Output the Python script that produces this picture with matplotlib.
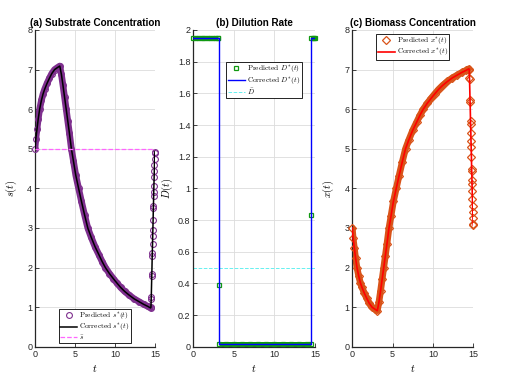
import numpy as np
import matplotlib.pyplot as plt
from matplotlib.ticker import FuncFormatter

plt.rcParams['font.family'] = 'Liberation Sans'
plt.rcParams['mathtext.fontset'] = 'cm'

# time points (rise / decline / fast jump at the end)
t_pts = [0.0, 0.1, 0.25, 0.4, 0.58, 0.8, 1.0, 1.2, 1.5, 1.8, 2.1, 2.45, 2.8, 3.1,
         3.3, 3.5, 3.7, 3.9, 4.1, 4.3, 4.55, 4.8, 5.1, 5.45, 5.8, 6.2, 6.6, 7.0,
         7.5, 8.0, 8.4, 8.8, 9.3, 9.8, 10.2, 10.7, 11.2, 11.8, 12.4, 13.0, 13.6,
         14.1, 14.45,
         14.5, 14.53, 14.54, 14.6, 14.61, 14.66, 14.67, 14.7, 14.72, 14.74, 14.77,
         14.8, 14.81, 14.84, 14.85, 14.87, 14.9, 14.92, 14.94, 14.96, 14.98, 15.0]
n_smooth = 43  # points before the final jump

s_pred = [5.0, 5.25, 5.5, 5.75, 6.0, 6.22, 6.38, 6.5, 6.65, 6.78, 6.9, 7.0, 7.05, 7.09,
          6.88, 6.6, 6.3, 6.0, 5.7, 5.4, 5.0, 4.7, 4.33, 4.0, 3.68, 3.33, 3.0, 2.78,
          2.53, 2.32, 2.15, 2.0, 1.85, 1.72, 1.62, 1.5, 1.4, 1.3, 1.21, 1.14, 1.07,
          1.02, 0.98,
          1.0, 1.2, 1.25, 1.78, 1.83, 2.3, 2.37, 2.6, 2.8, 2.95, 3.2,
          3.5, 3.55, 3.8, 3.9, 4.07, 4.28, 4.45, 4.6, 4.74, 4.89, 4.93]

x_pred = [3.0, 2.75, 2.5, 2.25, 2.0, 1.78, 1.62, 1.5, 1.35, 1.22, 1.1, 1.0, 0.95, 0.91,
          1.12, 1.4, 1.7, 2.0, 2.3, 2.6, 3.0, 3.3, 3.67, 4.0, 4.32, 4.67, 5.0, 5.22,
          5.47, 5.68, 5.85, 6.0, 6.15, 6.28, 6.38, 6.5, 6.6, 6.7, 6.79, 6.86, 6.93,
          6.98, 7.02,
          7.0, 6.8, 6.75, 6.22, 6.17, 5.7, 5.63, 5.4, 5.2, 5.05, 4.8,
          4.5, 4.45, 4.2, 4.1, 3.93, 3.72, 3.55, 3.4, 3.26, 3.11, 3.07]

s_bar = 5.0

# dilution rate
d_t = [0.0, 0.3, 0.6, 0.9, 1.2, 1.5, 1.8, 2.1, 2.4, 2.7, 3.0, 3.1,
       3.15,
       3.2, 4.0, 5.0, 6.0, 7.0, 8.0, 9.0, 10.0, 11.0, 12.0, 13.0, 14.0, 14.45,
       14.5,
       14.55, 14.7, 14.85, 15.0]
d_pred = [1.95] * 12 + [0.39] + [0.02] * 13 + [0.83] + [1.95] * 4
d_corr_t = [0.0, 3.15, 3.15, 14.5, 14.5, 15.0]
d_corr = [1.95, 1.95, 0.015, 0.015, 1.95, 1.95]
d_bar = 0.5

purple = '#7E2F8E'
orange = '#D95319'
green = '#119911'
axc = '#262626'

fig = plt.figure(figsize=(5.17, 3.87), dpi=100)
ax_a = fig.add_axes([0.0677, 0.104, 0.232, 0.8185])
ax_b = fig.add_axes([0.3739, 0.104, 0.2354, 0.8185])
ax_c = fig.add_axes([0.6814, 0.104, 0.234, 0.8185])

t = np.array(t_pts)
s = np.array(s_pred)
x = np.array(x_pred)

leg_kw = dict(fontsize=5.3, framealpha=1, fancybox=False, labelspacing=0.0,
              handlelength=2.3, handletextpad=0.3, borderpad=0.2, borderaxespad=0.5)

# (a) substrate
ax_a.plot(t[:n_smooth], s[:n_smooth], '-', color=purple, lw=4.8, solid_capstyle='round', zorder=2)
ax_a.plot(t, s, 'o', ms=4.2, mfc='none', mec=purple, mew=0.8, clip_on=False, zorder=3,
          label=r'Predicted $s^{*}(t)$')
ax_a.plot(t, s, '-', color='k', lw=1.1, zorder=4, label=r'Corrected $s^{*}(t)$')
ax_a.plot([0, 15], [s_bar, s_bar], '--', color='#ff66ff', lw=0.9, zorder=5, label=r'$\bar{s}$')
ax_a.set_ylim(0, 8)
ax_a.set_yticks(range(0, 9))
ax_a.set_title('(a) Substrate Concentration', fontsize=7.1, fontweight='bold', pad=3)
ax_a.set_ylabel(r'$s(t)$', fontsize=7.5, labelpad=6)
ax_a.legend(loc='lower center', **leg_kw)

# (b) dilution rate
d = np.array(d_pred)
band = d.copy()
for i in range(len(d)):
    prev_eq = i > 0 and d[i - 1] == d[i]
    next_eq = i < len(d) - 1 and d[i + 1] == d[i]
    if not (prev_eq or next_eq):
        band[i] = np.nan
ax_b.plot(d_t, band, '-', color=green, lw=3.6, solid_capstyle='butt', clip_on=False, zorder=2)
ax_b.plot(d_t, d, 's', ms=3.4, mfc='none', mec=green, mew=0.9, clip_on=False, zorder=3,
          label=r'Predicted $D^{*}(t)$')
ax_b.plot(d_corr_t, d_corr, '-', color='#0000ff', lw=1.0, zorder=4, label=r'Corrected $D^{*}(t)$')
ax_b.plot([0, 15], [d_bar, d_bar], '--', color='#66f0f0', lw=0.7, zorder=1, label=r'$\bar{D}$')
ax_b.set_ylim(0, 2)
ax_b.set_yticks(np.arange(0, 2.01, 0.2))
ax_b.yaxis.set_major_formatter(FuncFormatter(lambda v, p: '%g' % round(v, 1)))
ax_b.set_title('(b) Dilution Rate', fontsize=7.1, fontweight='bold', pad=3)
ax_b.set_ylabel(r'$D(t)$', fontsize=7.5, labelpad=2)
ax_b.legend(loc='upper right', bbox_to_anchor=(0.893, 0.899),
            **{**leg_kw, 'borderaxespad': 0})

# (c) biomass
ax_c.plot(t[:n_smooth], x[:n_smooth], '-', color=orange, lw=4.8, solid_capstyle='round', zorder=2)
ax_c.plot(t, x, 'D', ms=3.6, mfc='none', mec=orange, mew=0.9, clip_on=False, zorder=3,
          label=r'Predicted $x^{*}(t)$')
ax_c.plot(t, x, '-', color='#ff0000', lw=1.2, zorder=4, label=r'Corrected $x^{*}(t)$')
ax_c.set_ylim(0, 8)
ax_c.set_yticks(range(0, 9))
ax_c.set_title('(c) Biomass Concentration', fontsize=7.1, fontweight='bold', pad=3)
ax_c.set_ylabel(r'$x(t)$', fontsize=7.5, labelpad=6)
ax_c.legend(loc='upper center', **leg_kw)

for ax in (ax_a, ax_b, ax_c):
    ax.set_xlim(0, 15)
    ax.set_xticks([0, 5, 10, 15])
    ax.set_xlabel(r'$t$', fontsize=7.5, labelpad=3)
    ax.grid(True, color='#dcdcdc', lw=0.6)
    ax.set_axisbelow(True)
    ax.spines['top'].set_visible(False)
    ax.spines['right'].set_visible(False)
    for sp in ('left', 'bottom'):
        ax.spines[sp].set_color(axc)
        ax.spines[sp].set_linewidth(0.9)
    ax.tick_params(direction='in', length=3, width=0.6, colors=axc, labelsize=6.5, pad=2)
    leg = ax.get_legend()
    leg.set_zorder(10)
    frame = leg.get_frame()
    frame.set_edgecolor('k')
    frame.set_linewidth(0.6)
    for txt in leg.get_texts():
        txt.set_family('cmr10')

fig.savefig('out.png', dpi=100)
